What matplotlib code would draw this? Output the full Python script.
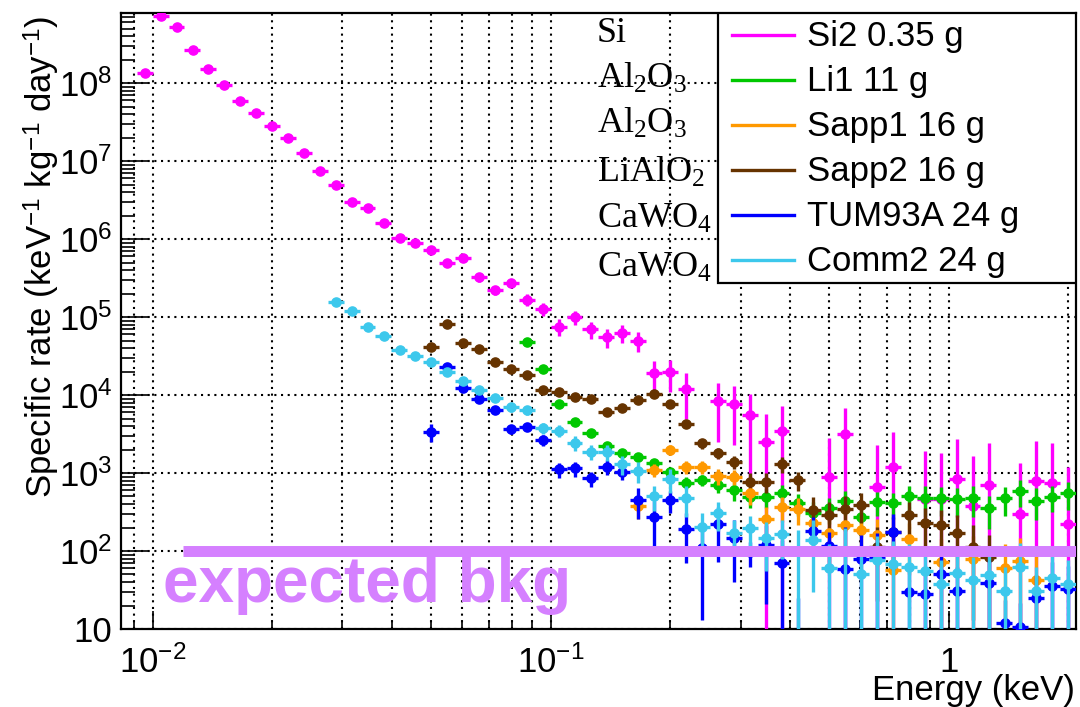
import numpy as np
import matplotlib
matplotlib.use("Agg")
import matplotlib.pyplot as plt
from matplotlib.patches import Rectangle
from matplotlib.lines import Line2D
from matplotlib.ticker import FixedLocator, LogLocator, NullFormatter

plt.rcParams['font.family'] = ['Liberation Sans', 'DejaVu Sans']
plt.rcParams['mathtext.fontset'] = 'custom'
plt.rcParams['mathtext.rm'] = 'Liberation Serif'
plt.rcParams['mathtext.it'] = 'Liberation Serif:italic'
plt.rcParams['mathtext.bf'] = 'Liberation Serif:bold'
plt.rcParams['mathtext.sf'] = 'Liberation Sans'

# histogram binning: 25 log bins per decade
bin_edges = np.logspace(-2.08, 0.32, 61)

# Si2 0.35 g
si2_first = 1
si2_rate = [1.33e8, 7.2e8, 5.3e8, 2.65e8, 1.51e8, 9.3e7, 5.9e7, 4.1e7, 2.8e7, 1.97e7,
            1.27e7, 7.5e6, 4.9e6, 3.0e6, 2.48e6, 1.59e6, 1.04e6, 8.97e5, 7.2e5, 4.97e5,
            5.75e5, 3.23e5, 2.2e5, 2.75e5, 1.67e5, 1.27e5, 7.5e4, 9.9e4, 6.95e4, 5.5e4,
            6.2e4, 4.97e4, 1.9e4, 1.95e4, 1.2e4, None, 8.4e3, 7.7e3, 5.5e3, 2.5e3,
            3.5e3, None, None, 880, 3.16e3, None, 667, 1.2e3, None, 470,
            470, 830, 380, 700, None, 295, 790, 738, 220]
si2_err = [2e6, 8e6, 6e6, 3e6, 2e6, 1.5e6, 1e6, 8e5, 6e5, 5e5,
           4e5, 3e5, 2e5, 1.5e5, 1.3e5, 1e5, 8e4, 7e4, 6e4, 5e4,
           5e4, 4e4, 3e4, 3.5e4, 2.8e4, 2.5e4, 1.8e4, 2e4, 1.7e4, 1.5e4,
           1.6e4, 1.4e4, 8.5e3, 8.5e3, 7e3, None, 5.9e3, 5.4e3, 4.8e3, 3.2e3,
           3.7e3, None, None, 1.9e3, 3.6e3, None, 1.6e3, 2.2e3, None, 1.45e3,
           1.35e3, 1.9e3, 1.27e3, 1.7e3, None, 1.06e3, 1.8e3, 1.7e3, 960]

# Li1 11 g
li1_first = 25
li1_rate = [4.74e4, 2.15e4, 7.7e3, 4.55e3, 3.23e3, 2.2e3, 1.79e3, 1.59e3, 1.33e3, 1.02e3,
            752, 813, 700, 600, 497, 497, 560, 409, 304, 352,
            442, 270, 428, 409, 507, 474, 474, 460, 474, 352,
            474, 588, 442, 497, 550]
li1_err = [2.5e3, 1.3e3, 600, 400, 320, 250, 220, 200, 180, 150,
           130, 140, 140, 160, 140, 140, 150, 130, 120, 130,
           150, 120, 150, 150, 180, 200, 190, 190, 200, 160,
           195, 220, 195, 185, 210]

# Sapp1 16 g
sapp1_first = 32
sapp1_rate = [377, 1.09e3, 2.0e3, 1.2e3, 1.2e3, 912, 900, 550, 260, 363,
              343, 231, 169, 215, 186, 160, 57, 141, None, 73,
              None, 80, None, 61, 74, 42]
sapp1_err = [120, 200, 300, 230, 230, 200, 200, 160, 110, 130,
             130, 110, 100, 110, 100, 95, 60, 90, None, 70,
             None, 75, None, 62, 71, 45]

# Sapp2 16 g
sapp2_first = 19
sapp2_rate = [4.16e4, 8.05e4, 4.68e4, 3.89e4, 2.62e4, 2.14e4, 1.8e4, 1.16e4, 1.1e4, 9.3e3,
              8.8e3, 6.0e3, 6.75e3, 8.6e3, 1.02e4, 7.6e3, 4.25e3, 2.4e3, 1.82e3, 1.4e3,
              773, 773, 1.29e3, 813, 335, 290, 343, 389, 113, 177,
              290, 226, 215, 169, 113, 85]
sapp2_err = [2e3, 3e3, 2e3, 1.8e3, 1.4e3, 1.2e3, 1e3, 800, 750, 700,
             650, 550, 600, 650, 700, 600, 450, 350, 300, 260,
             220, 220, 300, 227, 160, 140, 160, 160, 90, 100,
             140, 126, 125, 120, 100, 75]

# TUM93A 24 g
tum_first = 19
tum_rate = [3.4e3, 2.26e4, 1.22e4, 8.9e3, 6.4e3, 3.66e3, 3.93e3, 2.65e3, 1.11e3, 1.15e3,
            855, 1.2e3, 1.04e3, 451, 275, 451, 190, 109, 222, 146,
            97, 119, 70, 8, 182, 116, 58, 80, 85, 177,
            30, 28, 51, 31, None, 38.5, 11.8, 10.7, 24.7, 35.8,
            32.2]
tum_err = [900, 1.5e3, 1e3, 800, 700, 500, 500, 400, 250, 250,
           190, 250, 220, 190, 160, 140, 120, 96, 150, 106,
           34, 98, 70, 17, 90, 60, 147, 80, 85, 120,
           30, 28, 51, 31, None, 38.5, 11.8, 10.7, 24.7, 35.8,
           32.2]

# Comm2 24 g
comm_first = 13
comm_rate = [1.54e5, 1.2e5, 7.4e4, 5.7e4, 3.78e4, 3.16e4, 2.67e4, 1.99e4, 1.51e4, 1.16e4,
             9.1e3, 6.95e3, 6.4e3, 3.74e3, 3.5e3, 2.44e3, 1.87e3, 1.84e3, 1.3e3, 1.07e3,
             507, 830, 474, 205, 304, 172, 195, 146, 164, 6,
             140, 61, 100, 51, 77, 68, 62, 56, 38, 53,
             42, 49, 31, 63, 31, 45.5, 38]
comm_err = [5e3, 4e3, 3e3, 2.5e3, 2e3, 2e3, 1.8e3, 1.5e3, 1.3e3, 1.1e3,
            1e3, 850, 800, 600, 600, 500, 420, 420, 350, 320,
            180, 280, 200, 100, 124, 78, 90, 90, 86, 180,
            110, 61, 100, 51, 77, 68, 62, 56, 38, 53,
            42, 49, 31, 63, 31, 45.5, 38]

series = [
    ("Si2 0.35 g", si2_first, si2_rate, si2_err, "#ff00ff"),
    ("Li1 11 g", li1_first, li1_rate, li1_err, "#00c800"),
    ("Sapp1 16 g", sapp1_first, sapp1_rate, sapp1_err, "#ff9900"),
    ("Sapp2 16 g", sapp2_first, sapp2_rate, sapp2_err, "#663300"),
    ("TUM93A 24 g", tum_first, tum_rate, tum_err, "#0000ff"),
    ("Comm2 24 g", comm_first, comm_rate, comm_err, "#3cc8ec"),
]

materials = ["Si", r"$\mathrm{Al_2O_3}$", r"$\mathrm{Al_2O_3}$", r"$\mathrm{LiAlO_2}$",
             r"$\mathrm{CaWO_4}$", r"$\mathrm{CaWO_4}$"]

bkg_level = 100
bkg_emin = 0.0119

fig = plt.figure(figsize=(10.8, 7.07), dpi=100)
ax = fig.add_axes([0.1118, 0.1103, 0.8845, 0.8713])
ax.set_xscale("log")
ax.set_yscale("log")
ax.set_xlim(bin_edges[0], bin_edges[-1])
ax.set_ylim(10, 7.9e8)


def px_ax(px, py):
    # pixel position in the figure -> axes fraction
    return (px - 120.7) / 955.3, (629 - py) / 616


for i, (label, first, rate, err, color) in enumerate(series):
    rate = np.array(rate, dtype=float)
    err = np.array(err, dtype=float)
    k = np.arange(first, first + len(rate))
    lo, hi = bin_edges[k], bin_edges[k + 1]
    x = 0.5 * (lo + hi)
    ok = ~np.isnan(rate)
    down = np.where(rate - err > 0, err, rate - 1e-3)
    ax.errorbar(x[ok], rate[ok], xerr=[(x - lo)[ok], (hi - x)[ok]],
                yerr=[down[ok], err[ok]], fmt="o", color=color, ms=6.6,
                elinewidth=2.4, capsize=0, zorder=3 + i * 0.1)

ax.hlines(bkg_level, bkg_emin, bin_edges[-1], color="#d580ff", lw=7.9, zorder=5)
ax.text(*px_ax(163, 601.7), "expected bkg", transform=ax.transAxes, color="#d580ff",
        fontsize=46, fontweight="bold", ha="left", va="baseline", zorder=5)

# grid: dotted, x on every tick, y on decades
dots = (0, (1, 2.2))
ax.xaxis.set_major_locator(FixedLocator([0.01, 0.1, 1]))
ax.xaxis.set_minor_locator(LogLocator(base=10, subs=np.arange(2, 10) * 1.0, numticks=20))
ax.xaxis.set_minor_formatter(NullFormatter())
ax.set_xticklabels([r"$\mathsf{10^{-2}}$", r"$\mathsf{10^{-1}}$", "1"])
ax.yaxis.set_major_locator(FixedLocator([10.0 ** p for p in range(1, 9)]))
ax.yaxis.set_minor_locator(LogLocator(base=10, subs=np.arange(2, 10) * 1.0, numticks=20))
ax.yaxis.set_minor_formatter(NullFormatter())
ax.set_yticklabels(["10"] + [r"$\mathsf{10^{%d}}$" % p for p in range(2, 9)])
ax.grid(which="major", ls=dots, color="k", lw=1.5, zorder=1)
ax.xaxis.grid(which="minor", ls=dots, color="k", lw=1.5, zorder=1)

ax.tick_params(which="both", direction="in", top=False, right=False, width=1.2)
ax.tick_params(axis="y", which="major", length=20, labelsize=25, pad=6)
ax.tick_params(axis="y", which="minor", length=10)
ax.tick_params(axis="x", which="major", length=13, labelsize=25, pad=12)
ax.tick_params(axis="x", which="minor", length=6.5)
for s in ax.spines.values():
    s.set_linewidth(1.6)

fig.text(1075 / 1080, 1 - 700 / 707, "Energy (keV)", fontsize=25, ha="right", va="baseline")
fig.text(42 / 1080, 1 - 16 / 707,
         r"Specific rate (keV$^{\mathsf{-1}}$ kg$^{\mathsf{-1}}$ day$^{\mathsf{-1}}$)",
         fontsize=25, rotation=90, ha="center", va="top")

# material labels
mat_baselines = [41.7, 88, 133, 182, 228, 277]
for name, yb in zip(materials, mat_baselines):
    ax.text(*px_ax(597, yb), name, transform=ax.transAxes, fontsize=26,
            family="Liberation Serif", ha="left", va="baseline", zorder=6)

# legend box
x0, y0 = px_ax(718, 283)
x1, y1 = px_ax(1076, 13)
ax.add_patch(Rectangle((x0, y0), x1 - x0, y1 - y0, transform=ax.transAxes,
                       facecolor="white", edgecolor="black", lw=1.6, zorder=7))
leg_rows = [35, 80, 125, 170, 215, 260]
for (label, first, rate, err, color), yc in zip(series, leg_rows):
    xa, ya = px_ax(732, yc)
    xb, _ = px_ax(794, yc)
    ax.add_line(Line2D([xa, xb], [ya, ya], transform=ax.transAxes, color=color,
                       lw=2.4, zorder=8))
    ax.text(*px_ax(807, yc + 11), label, transform=ax.transAxes, fontsize=25,
            ha="left", va="baseline", zorder=8)

fig.savefig("out.png", dpi=100)
